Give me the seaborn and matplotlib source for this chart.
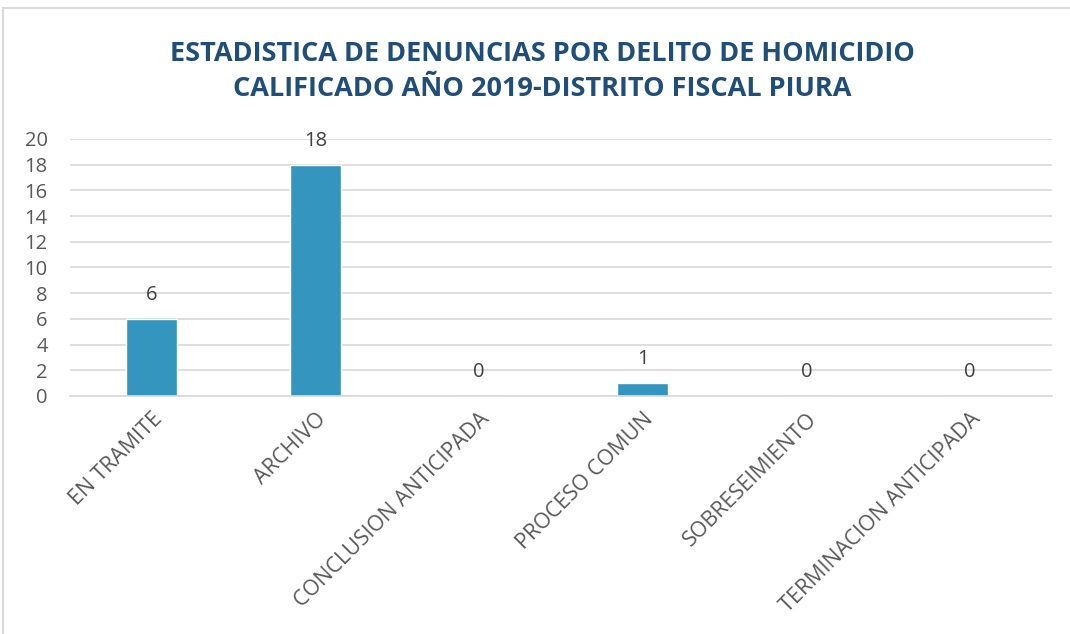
import matplotlib
matplotlib.use("Agg")
import matplotlib.pyplot as plt
from matplotlib.patches import Rectangle
import seaborn as sns
import pandas as pd

# data
categorias = ["EN TRAMITE", "ARCHIVO", "CONCLUSION ANTICIPADA",
              "PROCESO COMUN", "SOBRESEIMIENTO", "TERMINACION ANTICIPADA"]
denuncias = [6, 18, 0, 1, 0, 0]
titulo = "ESTADISTICA DE DENUNCIAS POR DELITO DE HOMICIDIO\nCALIFICADO AÑO 2019-DISTRITO FISCAL PIURA"

sns.set_style("white")
plt.rcParams["font.family"] = ["Open Sans", "DejaVu Sans"]

df = pd.DataFrame({"categoria": categorias, "denuncias": denuncias})

fig = plt.figure(figsize=(10.7, 6.34), dpi=100)
ax = fig.add_axes([0.0654, 0.3754, 0.9176, 0.4054])

sns.barplot(data=df, x="categoria", y="denuncias", color="#3496BE",
            width=0.31, saturation=1, ax=ax)

ax.set_ylim(0, 20)
ax.set_yticks(range(0, 21, 2))
ax.yaxis.grid(True, color="#D9D9D9", linewidth=1.2)
ax.set_axisbelow(True)
for s in ["top", "right", "left"]:
    ax.spines[s].set_visible(False)
ax.spines["bottom"].set_color("#D9D9D9")
ax.spines["bottom"].set_linewidth(1.2)
ax.tick_params(length=0, labelsize=14.5, colors="#595959")
ax.tick_params(axis="x", pad=9, labelsize=15.5)
ax.tick_params(axis="y", pad=16)
ax.set_xlabel("")
ax.set_ylabel("")
plt.setp(ax.get_xticklabels(), rotation=45, ha="right", rotation_mode="anchor")

ax.bar_label(ax.containers[0], padding=10, fontsize=14.5, color="#404040")

fig.text(0.507, 0.888, titulo, ha="center", va="center", fontsize=19.5,
         fontweight="bold", color="#1F4E79", linespacing=1.45)

# light frame of the chart area
fig.patches.append(Rectangle((0.003, -0.01), 1.1, 0.998, transform=fig.transFigure,
                             fill=False, edgecolor="#D9D9D9", linewidth=1.5))

fig.savefig("out.png", dpi=100)
